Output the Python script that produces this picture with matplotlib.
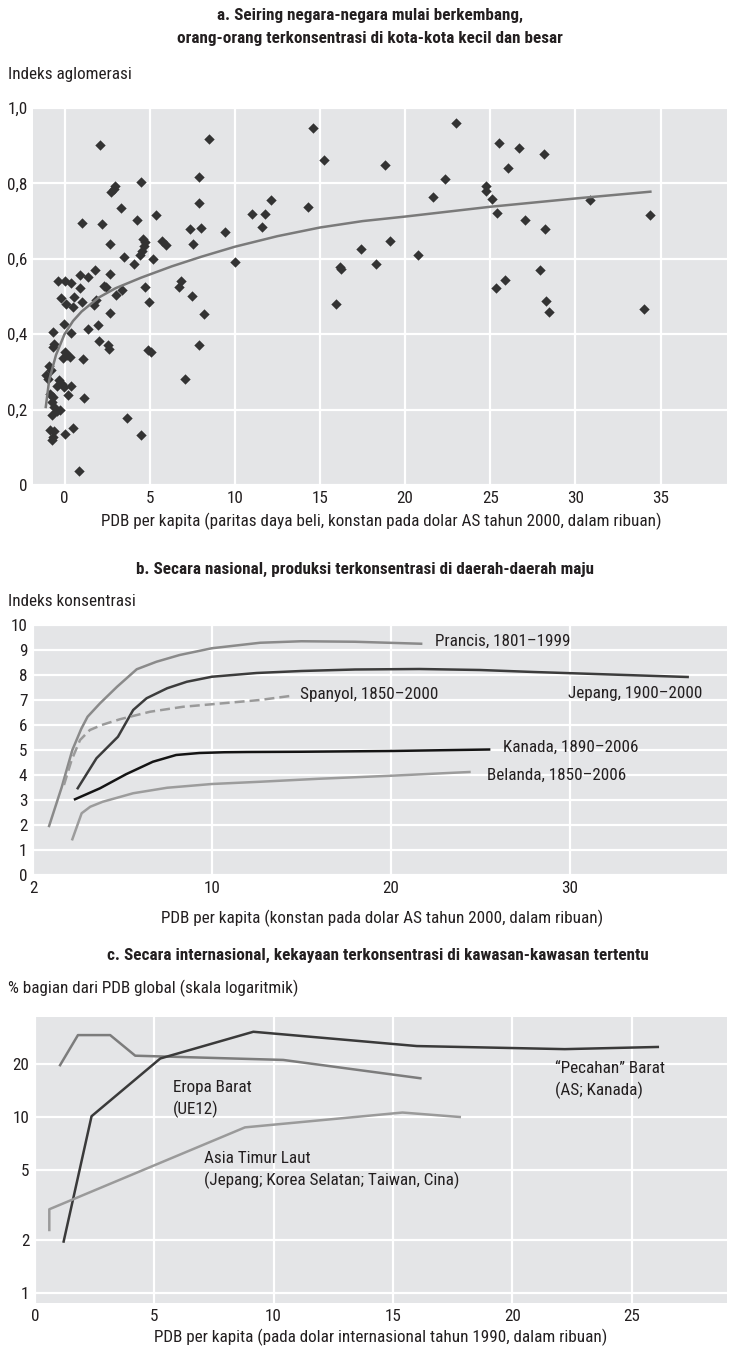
import matplotlib
matplotlib.use('Agg')
import matplotlib.pyplot as plt
from matplotlib import font_manager
from matplotlib.ticker import FixedLocator, NullLocator

# prefer a narrow face if one is installed
installed = {f.name for f in font_manager.fontManager.ttflist}
family = 'DejaVu Sans'
for name in ['Liberation Sans Narrow', 'Roboto Condensed', 'Open Sans Condensed',
             'DejaVu Sans Condensed', 'Roboto', 'Liberation Sans']:
    if name in installed:
        family = name
        break
plt.rcParams['font.family'] = [family, 'DejaVu Sans']
FS = 12.3
plt.rcParams['font.size'] = FS

# --- panel a: agglomeration index vs GDP per capita (thousands) ---
agl_x = [2.75, 2.88, 2.98, 4.5, 3.29, 1.0, 2.2, 4.27, 5.4, 2.7,
         4.6, 4.75, 4.65, 4.55, 4.45, 5.75, 5.95, 3.52, 4.06, 5.2,
         1.79, 2.65, 0.9, 1.4, -0.41, 0.04, 0.4, 2.3, 2.44, 0.9,
         3.37, 3.03, 4.75, 4.95, -0.2, 0.08, 0.55, 1.0, 0.52, 1.85,
         1.71, 2.7, -0.04, 1.38, 1.97, 0.36, -0.68, 2.0, 2.56, 2.62,
         -0.6, -0.68, 0.0, 0.12, -0.06, 0.33, 1.06, 4.9, 5.05, -0.9,
         -1.1, -0.98, -0.8, -0.35, -0.15, -0.02, -0.45, 0.4, 0.22, 1.15,
         -0.85, -0.65, -0.75, -0.6, -0.45, -0.72, -0.28, 3.65, -0.85, -0.6,
         -0.68, -0.74, 0.0, 0.5, 4.5, 0.88, 2.08, 8.49, 14.6, 15.25,
         7.88, 7.9, 12.1, 11.0, 11.77, 14.28, 11.57, 7.35, 8.0, 9.4,
         7.55, 10.0, 17.4, 16.15, 16.25, 15.95, 6.86, 6.7, 7.5, 8.2,
         7.9, 7.1, 22.96, 18.83, 25.54, 26.67, 28.13, 26.03, 22.37, 21.65,
         24.77, 24.73, 25.08, 25.39, 30.86, 34.36, 27.02, 28.19, 19.09, 18.3,
         20.78, 27.92, 25.84, 25.35, 28.25, 28.44, 34.01]
agl_y = [0.777, 0.785, 0.792, 0.804, 0.735, 0.695, 0.693, 0.704, 0.716, 0.638,
         0.652, 0.645, 0.633, 0.62, 0.609, 0.648, 0.636, 0.606, 0.586, 0.6,
         0.571, 0.56, 0.556, 0.551, 0.542, 0.542, 0.536, 0.528, 0.524, 0.523,
         0.518, 0.504, 0.525, 0.486, 0.495, 0.48, 0.5, 0.486, 0.471, 0.49,
         0.478, 0.456, 0.428, 0.415, 0.424, 0.404, 0.407, 0.382, 0.371, 0.36,
         0.373, 0.365, 0.352, 0.344, 0.338, 0.339, 0.333, 0.358, 0.354, 0.315,
         0.293, 0.281, 0.305, 0.278, 0.268, 0.261, 0.262, 0.262, 0.238, 0.231,
         0.241, 0.233, 0.22, 0.207, 0.196, 0.185, 0.198, 0.177, 0.145, 0.143,
         0.128, 0.12, 0.136, 0.15, 0.133, 0.036, 0.903, 0.919, 0.947, 0.863,
         0.816, 0.747, 0.757, 0.72, 0.718, 0.737, 0.684, 0.68, 0.683, 0.671,
         0.64, 0.591, 0.626, 0.578, 0.573, 0.48, 0.54, 0.525, 0.502, 0.453,
         0.372, 0.28, 0.959, 0.848, 0.906, 0.895, 0.879, 0.841, 0.811, 0.765,
         0.793, 0.78, 0.758, 0.722, 0.756, 0.717, 0.703, 0.678, 0.646, 0.587,
         0.609, 0.569, 0.543, 0.522, 0.489, 0.458, 0.468]
fit_x = [-1.1, -0.9, -0.5, 0, 0.5, 1, 2, 3, 4.5, 6.3, 8, 10, 12.5, 15, 17.5,
         20, 25, 30, 34.4]
fit_y = [0.207, 0.278, 0.345, 0.4, 0.435, 0.46, 0.497, 0.522, 0.55, 0.58,
         0.605, 0.632, 0.66, 0.683, 0.7, 0.712, 0.738, 0.76, 0.778]

# --- panel b: concentration index by country ---
fra_x = [0.9, 1.6, 2.2, 2.7, 3.05, 3.75, 4.7, 5.8, 6.9, 8.2, 10, 12.7, 15, 18, 21.7]
fra_y = [1.96, 3.5, 5.0, 5.85, 6.33, 6.87, 7.53, 8.23, 8.53, 8.8, 9.07, 9.29, 9.35, 9.33, 9.25]
jpn_x = [2.5, 3.55, 4.75, 5.6, 6.35, 7.5, 8.6, 10, 12.5, 15, 18, 21.6, 25, 28, 31, 34, 36.6]
jpn_y = [3.47, 4.67, 5.53, 6.6, 7.07, 7.47, 7.73, 7.93, 8.08, 8.16, 8.22, 8.24, 8.2,
         8.12, 8.05, 7.98, 7.92]
esp_x = [1.73, 2.16, 2.63, 3.18, 3.84, 4.86, 6.54, 8.4, 10, 12.68, 14.36]
esp_y = [3.6, 4.6, 5.4, 5.8, 6.0, 6.23, 6.53, 6.73, 6.83, 7.0, 7.16]
can_x = [2.35, 3.75, 5.2, 6.7, 8, 9.3, 10.7, 12, 15, 20, 25.5]
can_y = [3.03, 3.47, 4.03, 4.53, 4.8, 4.88, 4.91, 4.92, 4.93, 4.96, 5.02]
nld_x = [2.2, 2.45, 2.72, 3.2, 3.9, 5.6, 7.5, 10, 12.7, 16, 20, 24.4]
nld_y = [1.43, 1.93, 2.47, 2.73, 2.93, 3.27, 3.49, 3.64, 3.73, 3.85, 3.97, 4.12]
b_xticks = [0, 10, 20, 30]
b_xlabels = ['2', '10', '20', '30']

# --- panel c: share of global GDP ---
weu_x = [1.05, 1.8, 3.15, 4.2, 10.4, 16.15]
weu_y = [19.7, 29.2, 29.2, 22.3, 21.1, 16.6]
off_x = [1.2, 2.37, 5.25, 9.15, 16.0, 22.2, 26.1]
off_y = [1.96, 10.1, 21.5, 30.5, 25.3, 24.3, 25.0]
nea_x = [0.6, 0.6, 8.8, 15.4, 17.8]
nea_y = [2.28, 2.99, 8.73, 10.6, 10.0]
c_yticks = [1, 2, 5, 10, 20]

W, H = 731, 1348
BG = '#e4e5e7'
TXT = '#231f20'


def box(left, top, right, bottom):
    return [left / W, 1 - bottom / H, (right - left) / W, (bottom - top) / H]


def ftext(px, py, s, **kw):
    kw.setdefault('color', TXT)
    kw.setdefault('fontsize', FS)
    fig.text(px / W, 1 - py / H, s, **kw)


def style(ax):
    ax.set_facecolor(BG)
    for sp in ax.spines.values():
        sp.set_visible(False)
    ax.grid(True, color='white', lw=1.6)
    ax.set_axisbelow(True)
    ax.tick_params(length=0, labelsize=FS, labelcolor=TXT, pad=4)


fig = plt.figure(figsize=(W / 100, H / 100), dpi=100)
bold = dict(ha='center', va='center', fontweight='bold')

# panel a
ax1 = fig.add_axes(box(33, 108, 727, 485))
style(ax1)
ax1.scatter(agl_x, agl_y, marker='D', s=28, color='#333333', zorder=3, linewidths=0)
ax1.plot(fit_x, fit_y, color='#7a7a7a', lw=1.8, zorder=4)
ax1.set_xlim(-1.85, 38.9)
ax1.set_ylim(0, 1.0)
ax1.set_xticks([0, 5, 10, 15, 20, 25, 30, 35])
ax1.set_yticks([0, 0.2, 0.4, 0.6, 0.8, 1.0])
ax1.set_yticklabels(['0', '0,2', '0,4', '0,6', '0,8', '1,0'])
ftext(370, 15, 'a. Seiring negara-negara mulai berkembang,', **bold)
ftext(370, 38, 'orang-orang terkonsentrasi di kota-kota kecil dan besar', **bold)
ftext(8, 74, 'Indeks aglomerasi', ha='left', va='center')
ftext(381, 521, 'PDB per kapita (paritas daya beli, konstan pada dolar AS tahun 2000, dalam ribuan)',
      ha='center', va='center')

# panel b
ax2 = fig.add_axes(box(33, 625, 727, 875))
style(ax2)
ax2.plot(fra_x, fra_y, color='#8a8a8a', lw=1.8)
ax2.plot(jpn_x, jpn_y, color='#3c3c3c', lw=1.8)
ax2.plot(esp_x, esp_y, color='#9a9a9a', lw=1.8, ls=(0, (4, 2)))
ax2.plot(can_x, can_y, color='#141414', lw=1.8)
ax2.plot(nld_x, nld_y, color='#9c9c9c', lw=1.8)
ax2.set_xlim(0, 38.8)
ax2.set_ylim(0, 10)
ax2.set_xticks(b_xticks)
ax2.set_xticklabels(b_xlabels)
ax2.set_yticks(range(11))
lab = dict(fontsize=FS, color=TXT, va='center', ha='left')
ax2.text(22.5, 9.35, 'Prancis, 1801\u20131999', **lab)
ax2.text(14.95, 7.2, 'Spanyol, 1850\u20132000', **lab)
ax2.text(29.9, 7.27, 'Jepang, 1900\u20132000', **lab)
ax2.text(26.3, 5.1, 'Kanada, 1890\u20132006', **lab)
ax2.text(25.4, 4.0, 'Belanda, 1850\u20132006', **lab)
ftext(365, 569, 'b. Secara nasional, produksi terkonsentrasi di daerah-daerah maju', **bold)
ftext(8, 602, 'Indeks konsentrasi', ha='left', va='center')
ftext(382, 918, 'PDB per kapita (konstan pada dolar AS tahun 2000, dalam ribuan)',
      ha='center', va='center')

# panel c
ax3 = fig.add_axes(box(35, 1017, 727, 1303))
style(ax3)
ax3.set_yscale('log')
ax3.plot(weu_x, weu_y, color='#7c7c7c', lw=1.8)
ax3.plot(off_x, off_y, color='#3a3a3a', lw=1.8)
ax3.plot(nea_x, nea_y, color='#9a9a9a', lw=1.8)
ax3.set_xlim(0, 29)
ax3.set_ylim(0.877, 37)
ax3.set_xticks([0, 5, 10, 15, 20, 25])
ax3.yaxis.set_major_locator(FixedLocator(c_yticks))
ax3.yaxis.set_minor_locator(NullLocator())
ax3.set_yticklabels([str(v) for v in c_yticks])
clab = dict(fontsize=FS, color=TXT, va='center', ha='left', linespacing=1.45)
ax3.text(5.77, 12.7, 'Eropa Barat\n(UE12)', **clab)
ax3.text(21.8, 16.2, '\u201cPecahan\u201d Barat\n(AS; Kanada)', **clab)
ax3.text(7.1, 5.0, 'Asia Timur Laut\n(Jepang; Korea Selatan; Taiwan, Cina)', **clab)
ftext(378, 955, 'c. Secara internasional, kekayaan terkonsentrasi di kawasan-kawasan tertentu',
      **bold)
ftext(8, 988, '% bagian dari PDB global (skala logaritmik)', ha='left', va='center')
ftext(381, 1337, 'PDB per kapita (pada dolar internasional tahun 1990, dalam ribuan)',
      ha='center', va='center')

fig.savefig('out.png', dpi=100)
